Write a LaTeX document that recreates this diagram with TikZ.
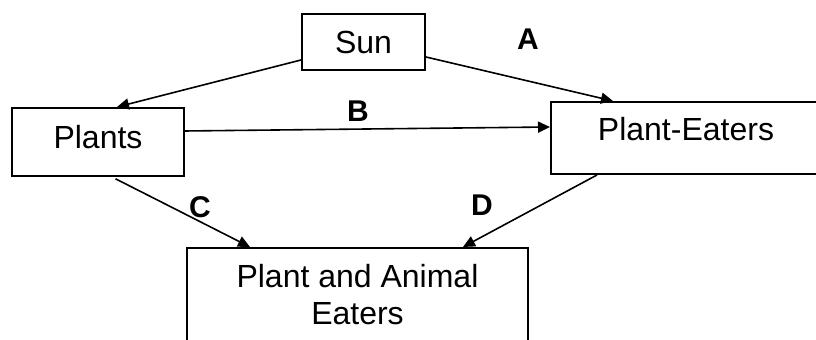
\documentclass[tikz,border=0pt]{standalone}
\usepackage{fontspec}
\setmainfont{Liberation Sans}
\usetikzlibrary{arrows.meta}
\begin{document}
\begin{tikzpicture}[x=0.5pt,y=-0.5pt,
  box/.style={draw=black, line width=1pt, rectangle, inner sep=0pt, align=center,
    font=\fontsize{16}{18.5}\selectfont},
  link/.style={draw=black, line width=0.8pt, -{Triangle[length=6pt,width=5.5pt]}},
  lab/.style={font=\fontsize{15}{17}\selectfont\bfseries, inner sep=0pt}]
\useasboundingbox (0,0) rectangle (816,340);
\clip (0,0) rectangle (816,340);
\fill[white] (0,0) rectangle (816,340);
\node[box, minimum width=61.5pt, minimum height=28pt] (sun) at (363.5,42) {Sun};
\node[box, minimum width=86pt, minimum height=34pt, text height=11.5pt, text depth=4.5pt] (plants) at (98,142) {Plants};
\node[box, minimum width=135pt, minimum height=36pt, text height=11.5pt, text depth=9pt] (pe) at (686,138) {Plant-Eaters};
\node[box, minimum width=170.5pt, minimum height=47pt] (pae) at (357.5,295) {Plant and Animal\\Eaters};
\draw[link] ([yshift=-9pt]sun.west) -- ([xshift=9.5pt]plants.north);
\draw[link] ([yshift=-7.5pt]sun.east) -- ([xshift=-36.5pt]pe.north);
\draw[link] ([yshift=5.5pt]plants.east) -- ([yshift=5.5pt]pe.west);
\draw[link, shorten <=2pt] ([xshift=7pt]plants.south) -- ([xshift=-53.75pt]pae.north);
\draw[link] ([xshift=-44.5pt]pe.south) -- ([xshift=52.75pt]pae.north);
\node[lab] (la) at (528,39) {A};
\node[lab] (lb) at (358,111) {B};
\node[lab] (lc) at (200,207) {C};
\node[lab] (ld) at (482,205) {D};
\end{tikzpicture}
\end{document}
